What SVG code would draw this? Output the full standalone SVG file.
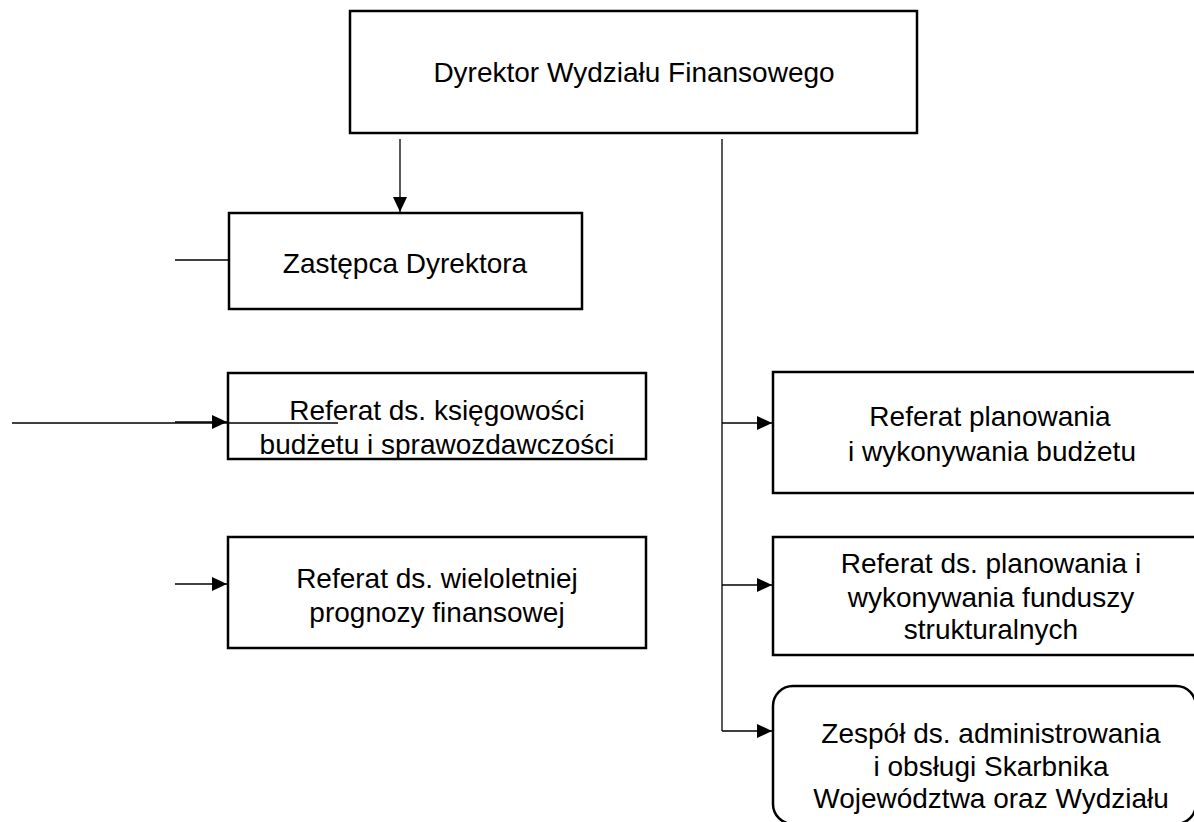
<svg xmlns="http://www.w3.org/2000/svg" width="1194" height="822" viewBox="0 0 1194 822">
<style>
.box{fill:#fff;stroke:#000;stroke-width:2.5}
.t{font-family:"Liberation Sans",Arial,sans-serif;font-size:28px;fill:#000;text-anchor:middle}
.c{stroke:#000;stroke-width:1.3;fill:none}
</style>
<defs>
<marker id="ah" markerUnits="userSpaceOnUse" markerWidth="16" markerHeight="15" refX="15" refY="7" orient="auto" viewBox="0 0 16 15">
<path d="M0,0 L15,7 L0,14 z" fill="#000"/>
</marker>
</defs>
<rect width="1194" height="822" fill="#fff"/>
<g id="connectors">
<line class="c" x1="400" y1="139" x2="400" y2="212" marker-end="url(#ah)"/>
<line class="c" x1="722" y1="139" x2="722" y2="731"/>
<line class="c" x1="722" y1="423" x2="772" y2="423" marker-end="url(#ah)"/>
<line class="c" x1="722" y1="585" x2="772" y2="585" marker-end="url(#ah)"/>
<line class="c" x1="722" y1="731" x2="772" y2="731" marker-end="url(#ah)"/>
<line class="c" x1="175" y1="260" x2="228" y2="260"/>
<line class="c" x1="12" y1="423" x2="338" y2="423"/>
<line class="c" x1="175" y1="422" x2="227" y2="422" marker-end="url(#ah)"/>
<line class="c" x1="175" y1="584" x2="227" y2="584" marker-end="url(#ah)"/>
</g>
<g id="dyrektor">
<rect class="box" x="350" y="11" width="567" height="122"/>
<text class="t" x="634" y="82">Dyrektor Wydziału Finansowego</text>
</g>
<g id="zastepca">
<rect class="box" x="229" y="213" width="353" height="96"/>
<text class="t" x="405" y="273">Zastępca Dyrektora</text>
</g>
<g id="ksiegowosc">
<rect class="box" x="228" y="373" width="418" height="86"/>
<line class="c" x1="228" y1="423" x2="338" y2="423"/>
<text class="t" x="437" y="420">Referat ds. księgowości</text>
<text class="t" x="437" y="454">budżetu i sprawozdawczości</text>
</g>
<g id="wpf">
<rect class="box" x="228" y="537" width="418" height="111"/>
<text class="t" x="437" y="588">Referat ds. wieloletniej</text>
<text class="t" x="437" y="622">prognozy finansowej</text>
</g>
<g id="planowanie">
<rect class="box" x="773" y="372" width="423" height="121"/>
<text class="t" x="990" y="426">Referat planowania</text>
<text class="t" x="992" y="461">i wykonywania budżetu</text>
</g>
<g id="fundusze">
<rect class="box" x="773" y="537" width="423" height="118"/>
<text class="t" x="991" y="573">Referat ds. planowania i</text>
<text class="t" x="991" y="607">wykonywania funduszy</text>
<text class="t" x="991" y="639">strukturalnych</text>
</g>
<g id="zespol">
<rect class="box" x="773" y="686" width="423" height="138" rx="20" ry="20"/>
<text class="t" x="991" y="743">Zespół ds. administrowania</text>
<text class="t" x="991" y="776">i obsługi Skarbnika</text>
<text class="t" x="991" y="808">Województwa oraz Wydziału</text>
</g>
</svg>
